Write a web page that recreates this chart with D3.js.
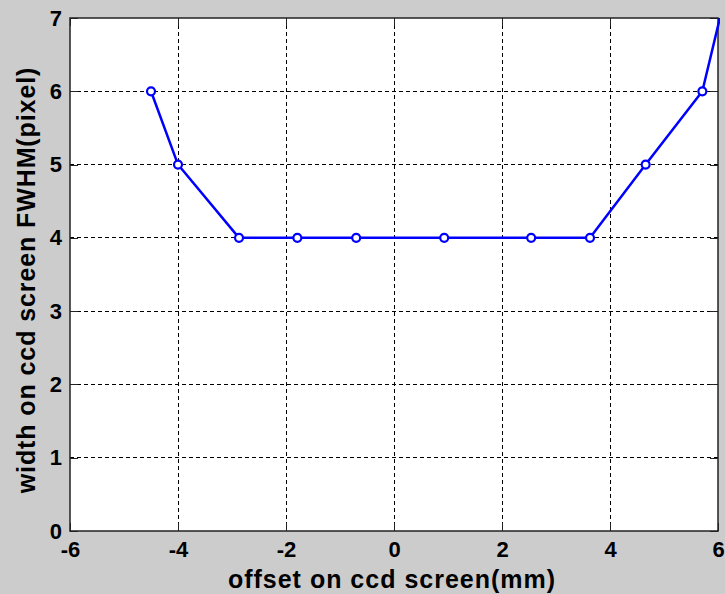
<!DOCTYPE html>
<html>
<head>
<meta charset="utf-8">
<script src="https://cdn.jsdelivr.net/npm/d3@7"></script>
<style>
  html, body { margin: 0; padding: 0; background: #cccccc; }
  svg { display: block; }
  text { font-family: "Liberation Sans", Arial, sans-serif; font-weight: bold; fill: #000; }
</style>
</head>
<body>
<svg id="chart" width="725" height="594"></svg>
<script>
// Measured spot width versus offset on the CCD screen
const offsetMm = [-4.5, -4.0, -2.87, -1.79, -0.70, 0.93, 2.54, 3.63, 4.66, 5.71, 6.1];
const fwhmPx   = [6, 5, 4, 4, 4, 4, 4, 4, 5, 6, 7.2];

const xTicks = [-6, -4, -2, 0, 2, 4, 6];
const yTicks = [0, 1, 2, 3, 4, 5, 6, 7];

const xLabel = "offset on ccd screen(mm)";
const yLabel = "width on ccd screen FWHM(pixel)";

const W = 725, H = 594;
const m = { left: 70, right: 7, top: 18, bottom: 63 };
const pw = W - m.left - m.right, ph = H - m.top - m.bottom;

const svg = d3.select("#chart");

const x = d3.scaleLinear().domain([-6, 6]).range([m.left, m.left + pw]);
const y = d3.scaleLinear().domain([0, 7]).range([m.top + ph, m.top]);

// plot area
svg.append("rect")
  .attr("x", m.left).attr("y", m.top).attr("width", pw).attr("height", ph)
  .attr("fill", "#ffffff");

// dashed grid
const grid = svg.append("g").attr("stroke", "#000").attr("stroke-width", 1)
  .attr("stroke-dasharray", "4,3").attr("shape-rendering", "crispEdges");
grid.selectAll("line.gx").data(xTicks.slice(1, -1)).join("line")
  .attr("x1", d => x(d)).attr("x2", d => x(d))
  .attr("y1", m.top).attr("y2", m.top + ph);
grid.selectAll("line.gy").data(yTicks.slice(1, -1)).join("line")
  .attr("x1", m.left).attr("x2", m.left + pw)
  .attr("y1", d => y(d)).attr("y2", d => y(d));

// axes with inward ticks on all four sides
const tickLen = 8;
const fmt = d => String(d);   // plain hyphen-minus for negatives
const axisStyle = g => {
  g.select(".domain").remove();
  g.selectAll(".tick line").attr("stroke", "#222").attr("shape-rendering", "crispEdges");
  g.selectAll(".tick text")
    .attr("font-size", 22)
    .attr("font-family", "Liberation Sans, Arial, sans-serif")
    .attr("font-weight", "bold").attr("fill", "#000");
};
svg.append("g").attr("transform", `translate(0,${m.top + ph})`)
  .call(d3.axisBottom(x).tickValues(xTicks).tickSizeInner(-tickLen).tickPadding(10).tickFormat(fmt))
  .call(axisStyle);
svg.append("g").attr("transform", `translate(0,${m.top})`)
  .call(d3.axisTop(x).tickValues(xTicks).tickSizeInner(-tickLen).tickFormat(""))
  .call(axisStyle);
svg.append("g").attr("transform", `translate(${m.left},0)`)
  .call(d3.axisLeft(y).tickValues(yTicks).tickSizeInner(-tickLen).tickPadding(8).tickFormat(fmt))
  .call(axisStyle);
svg.append("g").attr("transform", `translate(${m.left + pw},0)`)
  .call(d3.axisRight(y).tickValues(yTicks).tickSizeInner(-tickLen).tickFormat(""))
  .call(axisStyle);

// frame
svg.append("rect")
  .attr("x", m.left).attr("y", m.top).attr("width", pw).attr("height", ph)
  .attr("fill", "none").attr("stroke", "#222").attr("stroke-width", 1.5);

// data series, clipped to the axes box
svg.append("clipPath").attr("id", "plotClip").append("rect")
  .attr("x", m.left - 2).attr("y", m.top).attr("width", pw + 4).attr("height", ph + 2);

const pts = offsetMm.map((d, i) => [d, fwhmPx[i]]);
const series = svg.append("g").attr("clip-path", "url(#plotClip)");
series.append("path")
  .datum(pts)
  .attr("fill", "none").attr("stroke", "#0000ff").attr("stroke-width", 2.5)
  .attr("stroke-linejoin", "round")
  .attr("d", d3.line().x(d => x(d[0])).y(d => y(d[1])));
series.selectAll("circle").data(pts).join("circle")
  .attr("cx", d => x(d[0])).attr("cy", d => y(d[1])).attr("r", 4)
  .attr("fill", "#ffffff").attr("stroke", "#0000ff").attr("stroke-width", 2.2);

// axis titles
svg.append("text")
  .attr("x", 392).attr("y", 588)
  .attr("text-anchor", "middle").attr("font-size", 25).attr("letter-spacing", 1)
  .text(xLabel);
svg.append("text")
  .attr("transform", `translate(35,280) rotate(-90)`)
  .attr("text-anchor", "middle").attr("font-size", 25).attr("letter-spacing", 0.9)
  .text(yLabel);
</script>
</body>
</html>
